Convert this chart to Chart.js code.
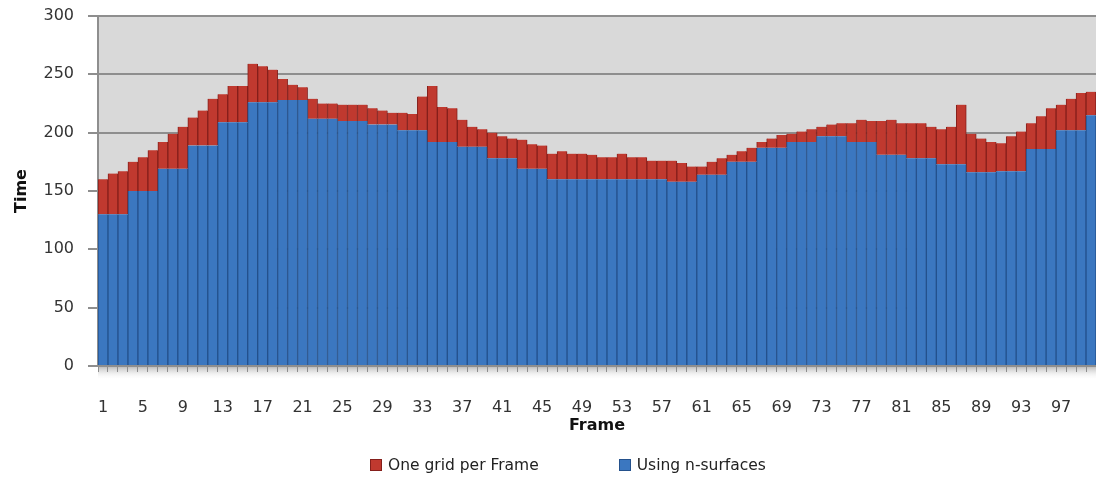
<!DOCTYPE html>
<html>
<head>
<meta charset="utf-8">
<title>Time per frame</title>
<script src="https://cdn.jsdelivr.net/npm/chart.js@4/dist/chart.umd.min.js"></script>
<style>
  html, body { margin: 0; padding: 0; background: #fff; }
  #wrap { position: relative; width: 1096px; height: 483px; }
  #legend {
    position: absolute; left: 370px; top: 456px;
    display: flex; align-items: center;
    font: 15.5px "DejaVu Sans", sans-serif; color: #222;
  }
  #legend .item { display: flex; align-items: center; margin-right: 80px; }
  #legend .box { width: 12px; height: 12px; margin-right: 6px; box-sizing: border-box; }
</style>
</head>
<body>
<div id="wrap">
  <canvas id="chart" width="1096" height="483"></canvas>
  <div id="legend"></div>
</div>
<script>
// frame numbers on the x axis
const frames = Array.from({ length: 100 }, (_, i) => String(i + 1));

// lower segment: Using n-surfaces
const nSurfaces = [
  130, 130, 130, 150, 150, 150, 169, 169, 169, 189,
  189, 189, 209, 209, 209, 226, 226, 226, 228, 228,
  228, 212, 212, 212, 210, 210, 210, 207, 207, 207,
  202, 202, 202, 192, 192, 192, 188, 188, 188, 178,
  178, 178, 169, 169, 169, 160, 160, 160, 160, 160,
  160, 160, 160, 160, 160, 160, 160, 158, 158, 158,
  164, 164, 164, 175, 175, 175, 187, 187, 187, 192,
  192, 192, 197, 197, 197, 192, 192, 192, 181, 181,
  181, 178, 178, 178, 173, 173, 173, 166, 166, 166,
  167, 167, 167, 186, 186, 186, 202, 202, 202, 215
];

// upper segment: extra time for One grid per Frame
const oneGrid = [
  30, 35, 37, 25, 29, 35, 23, 30, 36, 24,
  30, 40, 24, 31, 31, 33, 31, 28, 18, 13,
  11, 17, 13, 13, 14, 14, 14, 14, 12, 10,
  15, 14, 29, 48, 30, 29, 23, 17, 15, 22,
  19, 17, 25, 21, 20, 22, 24, 22, 22, 21,
  19, 19, 22, 19, 19, 16, 16, 18, 16, 13,
  7, 11, 14, 6, 9, 12, 5, 8, 11, 7,
  9, 11, 8, 10, 11, 16, 19, 18, 29, 30,
  27, 30, 30, 27, 30, 32, 51, 33, 29, 26,
  24, 30, 34, 22, 28, 35, 22, 27, 32, 20
];

const yTicks = [0, 50, 100, 150, 200, 250, 300];

const FONT = '"DejaVu Sans", sans-serif';
const gridColor = '#8e8e8e';

// grey plot area plus the little floor shadow under the axis
const plotBg = {
  id: 'plotBg',
  beforeDraw(chart) {
    const { ctx, chartArea: a } = chart;
    ctx.save();
    ctx.fillStyle = '#d9d9d9';
    ctx.fillRect(a.left, a.top, a.right - a.left, a.bottom - a.top);
    const g = ctx.createLinearGradient(0, a.bottom, 0, a.bottom + 14);
    g.addColorStop(0, '#b4b4b4');
    g.addColorStop(1, 'rgba(255,255,255,0)');
    ctx.fillStyle = g;
    ctx.fillRect(a.left, a.bottom, a.right - a.left, 14);
    ctx.restore();
  }
};

const chart = new Chart(document.getElementById('chart'), {
  type: 'bar',
  data: {
    labels: frames,
    datasets: [
      {
        label: 'Using n-surfaces',
        data: nSurfaces,
        backgroundColor: '#3b77c0',
        borderColor: '#24518c',
        borderWidth: { left: 1, right: 1, top: 0, bottom: 0 }
      },
      {
        label: 'One grid per Frame',
        data: oneGrid,
        backgroundColor: '#c0392f',
        borderColor: '#851f1b',
        borderWidth: { left: 1, right: 1, top: 0, bottom: 0 }
      }
    ]
  },
  options: {
    responsive: false,
    animation: false,
    categoryPercentage: 1,
    barPercentage: 1,
    layout: { padding: { top: 16, left: 0, right: 0, bottom: 0 } },
    plugins: {
      legend: { display: false },
      tooltip: { enabled: false }
    },
    scales: {
      x: {
        stacked: true,
        ticks: {
          autoSkip: false,
          maxRotation: 0,
          padding: 26,
          color: '#333',
          font: { family: FONT, size: 16 },
          callback: function (v, i) { return i % 4 === 0 ? this.getLabelForValue(v) : ''; }
        },
        grid: { drawOnChartArea: false, color: gridColor, tickLength: 6, offset: true },
        border: { color: gridColor, width: 2 },
        title: {
          display: true, text: 'Frame', color: '#111',
          font: { family: FONT, size: 16, weight: 'bold' },
          padding: { top: 0, bottom: 48 }
        },
        afterFit: s => { s.height = 117; s.paddingLeft = 0; s.paddingRight = 0; }
      },
      y: {
        stacked: true,
        min: 0,
        max: 300,
        afterBuildTicks: s => { s.ticks = yTicks.map(v => ({ value: v })); },
        ticks: { padding: 14, color: '#333', font: { family: FONT, size: 16 } },
        grid: { color: gridColor, lineWidth: 2, tickLength: 10 },
        border: { color: gridColor, width: 2 },
        title: {
          display: true, text: 'Time', color: '#111',
          font: { family: FONT, size: 16, weight: 'bold' },
          padding: { top: 12, bottom: 0 }
        },
        afterFit: s => { s.width = 98; s.paddingTop = 0; s.paddingBottom = 0; }
      }
    }
  },
  plugins: [plotBg]
});

// html legend, red entry first like the original
const legendEl = document.getElementById('legend');
chart.data.datasets.slice().reverse().forEach(ds => {
  const item = document.createElement('span');
  item.className = 'item';
  const box = document.createElement('span');
  box.className = 'box';
  box.style.background = ds.backgroundColor;
  box.style.border = '1px solid ' + ds.borderColor;
  const txt = document.createElement('span');
  txt.textContent = ds.label;
  item.appendChild(box);
  item.appendChild(txt);
  legendEl.appendChild(item);
});
</script>
</body>
</html>
